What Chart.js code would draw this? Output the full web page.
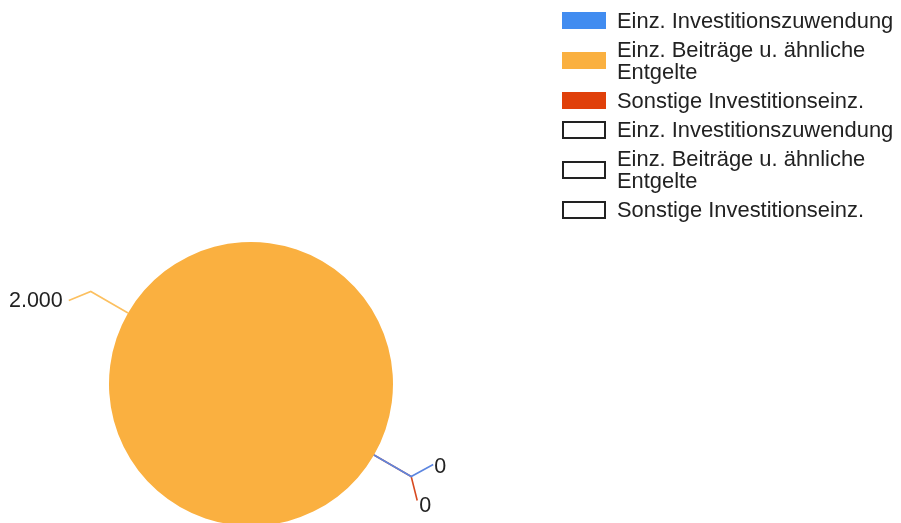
<!DOCTYPE html>
<html>
<head>
<meta charset="utf-8">
<script src="https://cdn.jsdelivr.net/npm/chart.js@4.4.1/dist/chart.umd.min.js"></script>
<style>
  html, body { margin: 0; padding: 0; background: #fff; overflow: hidden; }
  #wrap { position: relative; width: 901px; height: 523px; overflow: hidden; }
  #chart { position: absolute; left: 0; top: 0; }
  #legend { position: absolute; left: 562px; top: 6px; width: 340px;
            font-family: "Liberation Sans", Arial, sans-serif; font-size: 21.9px;
            line-height: 22px; color: #222; }
  .item { display: flex; align-items: center; padding: 3.5px 0; }
  .box { width: 44px; height: 17px; box-sizing: border-box; flex: none; margin-right: 11px; }
  .box.empty { height: 18px; border: 2px solid #222; background: #fff; }
  .txt { width: 286px; }
</style>
</head>
<body>
<div id="wrap">
  <canvas id="chart" width="901" height="560"></canvas>
  <div id="legend"></div>
</div>
<script>
// categories and values
var categories = ['Einz. Investitionszuwendung', 'Einz. Beiträge u. ähnliche Entgelte', 'Sonstige Investitionseinz.'];
var values = [0, 2000, 0];
var sliceColors = ['#418CF0', '#FAB040', '#E0400A'];
// second (empty) series shown in the legend only
var emptySeriesLabels = ['Einz. Investitionszuwendung', 'Einz. Beiträge u. ähnliche Entgelte', 'Sonstige Investitionseinz.'];

// leader line end relative to the elbow, and text nudge from that end
var lineEnds = [[22, -12], [-22, 9], [6, 24]];
var textNudge = [[1, 3, 'left'], [-6, 1, 'right'], [2, 6, 'left']];
var lineColors = ['#5C86E0', '#FCC060', '#D84A20'];
var drawOrder = [1, 2, 0];

function fmt(v) {
    return String(v).replace(/\B(?=(\d{3})+(?!\d))/g, '.');
}

var leaderLabels = {
    id: 'leaderLabels',
    afterDatasetsDraw: function(chart) {
        var ctx = chart.ctx;
        var meta = chart.getDatasetMeta(0);
        ctx.save();
        drawOrder.forEach(function(i) {
            var p = meta.data[i].getProps(['x', 'y', 'startAngle', 'endAngle', 'outerRadius'], true);
            var mid = (p.startAngle + p.endAngle) / 2;
            var ex = p.x + Math.cos(mid) * p.outerRadius;
            var ey = p.y + Math.sin(mid) * p.outerRadius;
            var kx = p.x + Math.cos(mid) * (p.outerRadius + 43);
            var ky = p.y + Math.sin(mid) * (p.outerRadius + 43);
            var lx = kx + lineEnds[i][0];
            var ly = ky + lineEnds[i][1];
            ctx.strokeStyle = lineColors[i];
            ctx.lineWidth = 1.6;
            ctx.beginPath();
            ctx.moveTo(ex, ey);
            ctx.lineTo(kx, ky);
            ctx.lineTo(lx, ly);
            ctx.stroke();
            ctx.fillStyle = '#222';
            ctx.font = '21.5px "Liberation Sans", Arial, sans-serif';
            ctx.textAlign = textNudge[i][2];
            ctx.textBaseline = 'middle';
            ctx.fillText(fmt(values[i]), lx + textNudge[i][0], ly + textNudge[i][1]);
        });
        ctx.restore();
    }
};

var chart = new Chart(document.getElementById('chart'), {
    type: 'pie',
    data: {
        labels: categories,
        datasets: [{
            data: values,
            backgroundColor: sliceColors,
            borderWidth: 0
        }]
    },
    options: {
        responsive: false,
        animation: false,
        rotation: 120,
        layout: { padding: { left: 109, top: 242, right: 508, bottom: 34 } },
        plugins: {
            legend: { display: false },
            tooltip: { enabled: false }
        }
    },
    plugins: [leaderLabels]
});

// legend
var legend = document.getElementById('legend');
categories.forEach(function(c, i) {
    legend.innerHTML += '<div class="item"><div class="box" style="background:' + sliceColors[i] +
        '"></div><div class="txt">' + c + '</div></div>';
});
emptySeriesLabels.forEach(function(c) {
    legend.innerHTML += '<div class="item"><div class="box empty"></div><div class="txt">' + c + '</div></div>';
});
</script>
</body>
</html>
